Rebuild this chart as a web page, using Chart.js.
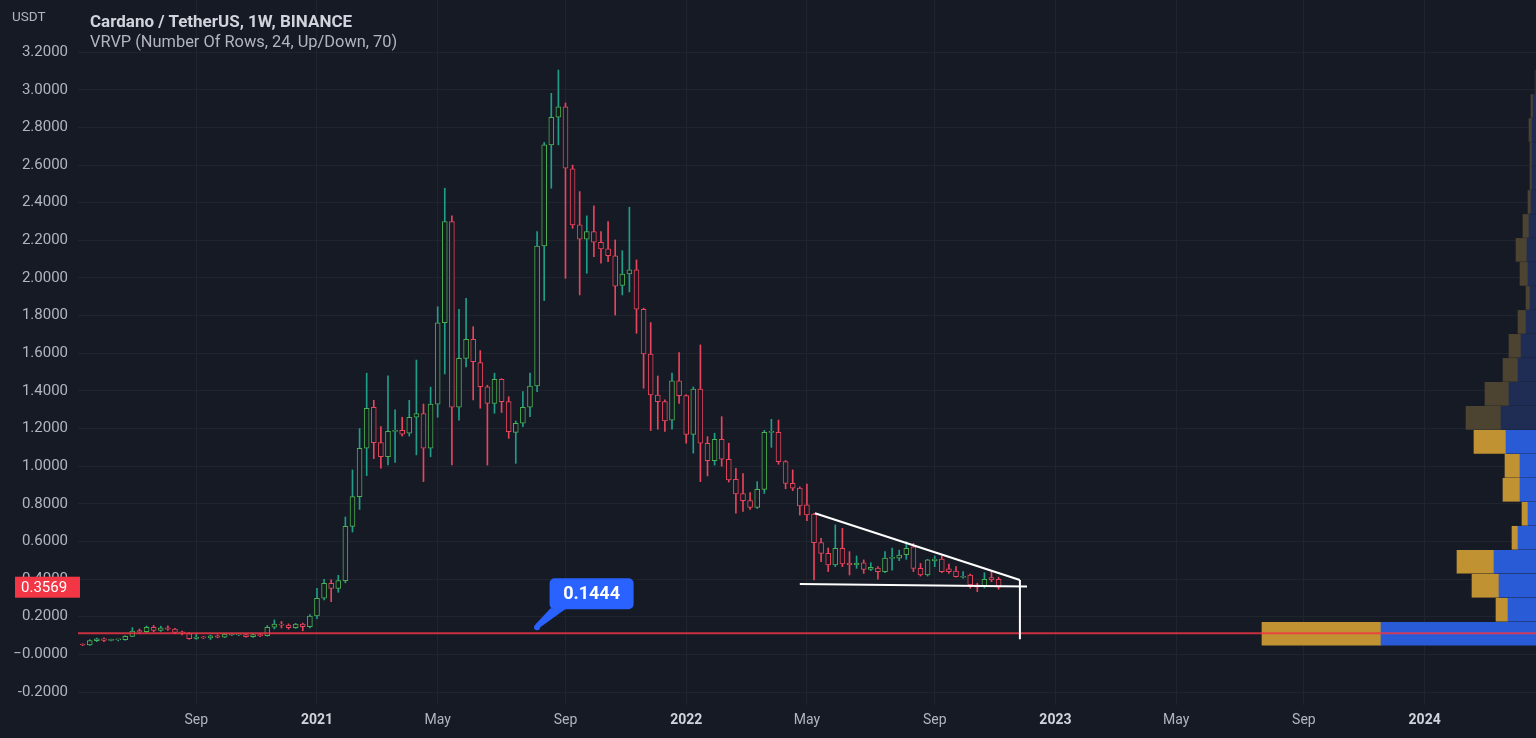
<!DOCTYPE html>
<html>
<head>
<meta charset="utf-8">
<script src="https://cdn.jsdelivr.net/npm/chart.js@4.4.1/dist/chart.umd.min.js"></script>
<style>
  html, body { margin: 0; padding: 0; background: #161a25; }
  #wrap { position: relative; width: 1536px; height: 738px; overflow: hidden; }
  #chart { display: block; }
  .hdr { position: absolute; font-family: Roboto, "Open Sans", sans-serif; white-space: nowrap; line-height: normal; }
  #unit { left: 12px; top: 8px; font-size: 13.5px; color: #b2b5be; }
  #title { left: 90px; top: 11px; font-size: 17px; font-weight: 700; color: #d1d4dc; }
  #study { left: 90px; top: 32px; font-size: 16.4px; color: #b2b5be; }
</style>
</head>
<body>
<div id="wrap">
  <canvas id="chart" width="1536" height="738"></canvas>
  <div class="hdr" id="unit">USDT</div>
  <div class="hdr" id="title">Cardano / TetherUS, 1W, BINANCE</div>
  <div class="hdr" id="study">VRVP (Number Of Rows, 24, Up/Down, 70)</div>
</div>
<script>
// weekly candles, first one opens Mon 18 May 2020
const FIRST_WEEK = "2020-05-18";

const OPEN = [
  .052, .050, .073, .082, .074, .077, .078, .096, .126, .120,
  .144, .127, .141, .134, .120, .110, .085, .091, .088, .099,
  .091, .103, .104, .105, .094, .105, .099, .144, .161, .156,
  .142, .161, .147, .204, .298, .378, .351, .392, .680, .838,
  1.095, 1.313, 1.125, 1.050, 1.185, 1.190, 1.175, 1.260, 1.280, 1.095,
  1.330, 1.762, 2.300, 1.313, 1.573, 1.674, 1.550, 1.422, 1.334, 1.462,
  1.343, 1.180, 1.228, 1.313, 1.426, 2.170, 2.707, 2.854, 2.910, 2.580,
  2.282, 2.206, 2.246, 2.190, 2.155, 2.118, 1.960, 2.021, 2.043, 1.834,
  1.596, 1.378, 1.343, 1.245, 1.453, 1.375, 1.169, 1.409, 1.122, 1.029,
  1.143, 1.037, .930, .855, .817, .781, .877, 1.180, 1.180, 1.024,
  .909, .883, .795, .746, .594, .537, .475, .564, .485, .475,
  .487, .452, .458, .440, .510, .511, .530, .572, .457, .422,
  .497, .507, .455, .443, .410, .421, .370, .360, .408, .399
];
const HIGH = [
  .056, .078, .087, .088, .081, .080, .099, .142, .135, .151,
  .154, .150, .152, .139, .124, .114, .110, .096, .103, .104,
  .112, .110, .108, .108, .108, .110, .153, .183, .175, .162,
  .165, .166, .212, .351, .399, .396, .420, .730, .980, 1.200,
  1.494, 1.350, 1.210, 1.480, 1.300, 1.260, 1.350, 1.564, 1.330, 1.420,
  1.847, 2.477, 2.330, 1.834, 1.892, 1.741, 1.614, 1.430, 1.494, 1.465,
  1.369, 1.240, 1.396, 1.494, 2.246, 2.720, 2.981, 3.105, 2.930, 2.600,
  2.459, 2.330, 2.383, 2.246, 2.299, 2.202, 2.145, 2.376, 2.096, 1.840,
  1.763, 1.479, 1.352, 1.494, 1.603, 1.380, 1.421, 1.644, 1.157, 1.175,
  1.263, 1.122, .989, .960, .860, .918, 1.190, 1.249, 1.245, 1.030,
  .980, .890, .905, .750, .617, .565, .688, .670, .546, .523,
  .502, .487, .466, .546, .565, .554, .599, .590, .483, .505,
  .523, .523, .480, .466, .440, .427, .378, .434, .440, .410
];
const LOW = [
  .046, .047, .068, .068, .071, .072, .075, .094, .113, .116,
  .120, .122, .127, .110, .104, .080, .080, .083, .079, .088,
  .089, .100, .099, .091, .090, .094, .097, .135, .140, .134,
  .138, .125, .140, .190, .290, .280, .330, .380, .650, .770,
  .950, 1.040, .990, 1.006, 1.020, 1.160, 1.160, 1.060, .918, 1.050,
  1.260, 1.490, 1.006, 1.245, 1.528, 1.352, 1.308, 1.006, 1.281, 1.285,
  1.148, 1.015, 1.210, 1.263, 1.396, 1.880, 2.477, 2.707, 1.998, 2.264,
  1.910, 2.025, 2.113, 2.078, 2.087, 1.803, 1.910, 1.926, 1.706, 1.414,
  1.189, 1.196, 1.185, 1.196, 1.334, 1.122, 1.069, .918, .948, 1.006,
  1.000, .916, .750, .760, .770, .775, .855, 1.100, 1.010, .880,
  .870, .740, .710, .395, .493, .440, .466, .466, .422, .457,
  .430, .445, .400, .434, .448, .498, .505, .440, .416, .416,
  .466, .434, .430, .410, .405, .351, .333, .353, .386, .346
];
const CLOSE = [
  .050, .073, .082, .074, .077, .078, .096, .124, .120, .144,
  .127, .141, .134, .116, .111, .084, .092, .088, .098, .091,
  .108, .107, .106, .094, .105, .099, .144, .161, .155, .142,
  .161, .147, .204, .298, .378, .351, .392, .680, .838, 1.095,
  1.308, 1.125, 1.050, 1.185, 1.190, 1.170, 1.260, 1.280, 1.095, 1.330,
  1.762, 2.300, 1.313, 1.573, 1.674, 1.555, 1.422, 1.334, 1.462, 1.343,
  1.183, 1.228, 1.313, 1.426, 2.170, 2.707, 2.854, 2.910, 2.583, 2.282,
  2.206, 2.246, 2.190, 2.155, 2.118, 1.957, 2.021, 2.043, 1.834, 1.596,
  1.378, 1.343, 1.240, 1.453, 1.375, 1.169, 1.409, 1.122, 1.029, 1.143,
  1.037, .927, .852, .817, .781, .877, 1.180, 1.185, 1.024, .909,
  .883, .789, .741, .594, .537, .475, .564, .480, .475, .485,
  .452, .462, .440, .511, .513, .528, .564, .457, .422, .502,
  .507, .440, .440, .413, .415, .369, .357, .399, .396, .3569
];

// VRVP, 24 rows from the lowest low to the highest high (bottom row first)
const VP_UP = [1190, 120, 270, 370, 60, 60, 170, 150, 320, 350, 240, 150, 120, 80, 40, 80, 110, 60, 30, 20, 20, 30, 20, 0];
const VP_DOWN = [1550, 280, 370, 420, 180, 80, 160, 160, 300, 350, 270, 180, 150, 100, 60, 80, 90, 70, 50, 40, 40, 40, 30, 8];
const VA_TOP_ROW = 8; // rows 0..8 are inside the 70% value area

const X_TICK_DATES = ["2020-09-07", "2021-01-04", "2021-05-03", "2021-09-06", "2022-01-03", "2022-05-02",
  "2022-09-05", "2023-01-02", "2023-05-01", "2023-09-04", "2024-01-01"];
const X_TICK_LABELS = ["Sep", "2021", "May", "Sep", "2022", "May", "Sep", "2023", "May", "Sep", "2024"];
const Y_TICKS = [-0.2, 0, 0.2, 0.4, 0.6, 0.8, 1, 1.2, 1.4, 1.6, 1.8, 2, 2.2, 2.4, 2.6, 2.8, 3, 3.2];
const Y_TICK_LABELS = ["-0.2000", "\u22120.0000", "0.2000", "0.4000", "0.6000", "0.8000", "1.0000", "1.2000", "1.4000",
  "1.6000", "1.8000", "2.0000", "2.2000", "2.4000", "2.6000", "2.8000", "3.0000", "3.2000"];

// drawings on the chart
const LEVEL = 0.112;
const NOTE = { date: "2021-08-09", price: 0.1444, text: "0.1444" };
const TREND_UPPER = [["2022-05-10", 0.75], ["2022-11-28", 0.395]];
const TREND_LOWER = [["2022-04-25", 0.374], ["2022-12-05", 0.36]];
const TREND_DROP = [["2022-11-28", 0.395], ["2022-11-28", 0.08]];
const LAST_PRICE = 0.3569;

const BG = "#161a25";
const GRID = "#20242f";
const UP_BODY = "#4caf50";
const UP_WICK = "#1f9e89";
const DOWN = "#e8445c";
const FONT = "Roboto, 'Open Sans', sans-serif";

const DAY0 = Date.UTC(2020, 0, 1);
const toDay = s => (Date.parse(s + "T00:00:00Z") - DAY0) / 86400000;
const X_MIN = 133.4;
const X_MAX = 1570.8;

const weekDays = OPEN.map((_, i) => toDay(FIRST_WEEK) + 7 * i);
const isUp = i => CLOSE[i] >= OPEN[i];
const isYear = i => /^\d{4}$/.test(X_TICK_LABELS[i]);

const priceLow = Math.min(...LOW);
const priceHigh = Math.max(...HIGH);
const rowStep = (priceHigh - priceLow) / VP_UP.length;
const rowMid = i => priceLow + rowStep * (i + 0.5);

const toPoints = pts => pts.map(([d, p]) => ({ x: toDay(d), y: p }));
const whiteLine = pts => ({
  type: "line", data: toPoints(pts), xAxisID: "x", yAxisID: "y",
  borderColor: "#ffffff", borderWidth: 2, pointRadius: 0, order: 1
});

const bgPlugin = {
  id: "bg",
  beforeDraw(chart) {
    const { ctx, width, height } = chart;
    ctx.save();
    ctx.fillStyle = BG;
    ctx.fillRect(0, 0, width, height);
    ctx.restore();
  }
};

const labelsPlugin = {
  id: "labels",
  afterDraw(chart) {
    const { ctx, scales: { x, y } } = chart;
    ctx.save();

    // text note with a pointer
    const ax = x.getPixelForValue(toDay(NOTE.date));
    const ay = y.getPixelForValue(NOTE.price);
    const bx = ax + 12.5, by = ay - 49, bw = 84, bh = 31;
    ctx.fillStyle = "#2962ff";
    ctx.beginPath();
    ctx.moveTo(ax - 1.5, ay - 3);
    ctx.lineTo(bx + 1, by + bh - 1);
    ctx.lineTo(bx + 17, by + bh - 1);
    ctx.lineTo(ax + 2.5, ay + 0.5);
    ctx.closePath();
    ctx.fill();
    ctx.beginPath();
    ctx.arc(ax, ay, 3, 0, Math.PI * 2);
    ctx.fill();
    ctx.beginPath();
    ctx.roundRect(bx, by, bw, bh, 5);
    ctx.fill();
    ctx.fillStyle = "#ffffff";
    ctx.font = "bold 18px " + FONT;
    ctx.textAlign = "center";
    ctx.textBaseline = "middle";
    ctx.fillText(NOTE.text, bx + bw / 2, by + bh / 2 + 1);

    // last price badge on the price scale
    const py = y.getPixelForValue(LAST_PRICE);
    ctx.fillStyle = "#f23645";
    ctx.fillRect(15, py - 10.5, 65, 21);
    ctx.fillStyle = "#ffffff";
    ctx.font = "15px " + FONT;
    ctx.textAlign = "left";
    ctx.fillText(LAST_PRICE.toFixed(4), 21, py + 1);
    ctx.restore();
  }
};

new Chart(document.getElementById("chart"), {
  type: "bar",
  data: {
    datasets: [
      {
        data: weekDays.map((d, i) => ({ x: d, y: [OPEN[i], CLOSE[i]] })),
        xAxisID: "x", yAxisID: "y",
        backgroundColor: BG,
        borderColor: ctx => isUp(ctx.dataIndex) ? UP_BODY : DOWN,
        borderWidth: 1, borderSkipped: false, barThickness: 5, minBarLength: 1,
        grouped: false, order: 4
      },
      {
        data: weekDays.map((d, i) => ({ x: d, y: [LOW[i], HIGH[i]] })),
        xAxisID: "x", yAxisID: "y",
        backgroundColor: ctx => isUp(ctx.dataIndex) ? UP_WICK : DOWN,
        borderWidth: 0, barThickness: 1, grouped: false, order: 5
      },
      {
        indexAxis: "y",
        data: VP_DOWN.map((v, i) => ({ y: rowMid(i), x: [0, v] })),
        xAxisID: "xv", yAxisID: "y",
        backgroundColor: ctx => ctx.dataIndex <= VA_TOP_ROW ? "#2a5bd7" : "#1f2d55",
        borderWidth: 0, barThickness: 23, grouped: false, order: 8
      },
      {
        indexAxis: "y",
        data: VP_UP.map((v, i) => ({ y: rowMid(i), x: [VP_DOWN[i], VP_DOWN[i] + v] })),
        xAxisID: "xv", yAxisID: "y",
        backgroundColor: ctx => ctx.dataIndex <= VA_TOP_ROW ? "#c09231" : "#4c4431",
        borderWidth: 0, barThickness: 23, grouped: false, order: 8
      },
      {
        type: "line",
        data: [{ x: X_MIN, y: LEVEL }, { x: X_MAX, y: LEVEL }],
        xAxisID: "x", yAxisID: "y",
        borderColor: "rgba(242, 54, 69, 0.82)", borderWidth: 2, pointRadius: 0, order: 2
      },
      whiteLine(TREND_UPPER),
      whiteLine(TREND_LOWER),
      whiteLine(TREND_DROP)
    ]
  },
  options: {
    responsive: false,
    devicePixelRatio: 1,
    animation: false,
    layout: { padding: 0 },
    plugins: { legend: { display: false }, tooltip: { enabled: false } },
    scales: {
      x: {
        type: "linear", min: X_MIN, max: X_MAX, offset: false,
        afterBuildTicks: axis => { axis.ticks = X_TICK_DATES.map(d => ({ value: toDay(d) })); },
        afterFit: axis => { axis.height = 33; axis.paddingLeft = 0; axis.paddingRight = 0; },
        ticks: {
          callback: (v, i) => X_TICK_LABELS[i],
          autoSkip: false, maxRotation: 0, padding: 7,
          color: ctx => isYear(ctx.index) ? "#d1d4dc" : "#b2b5be",
          font: ctx => ({ family: FONT, size: 14, weight: isYear(ctx.index) ? "bold" : "normal" })
        },
        grid: { color: GRID, drawTicks: false, offset: false },
        border: { display: false }
      },
      y: {
        type: "linear", position: "left", min: -0.269, max: 3.477, offset: false,
        afterBuildTicks: axis => { axis.ticks = Y_TICKS.map(v => ({ value: v })); },
        afterFit: axis => { axis.width = 78; axis.paddingTop = 0; axis.paddingBottom = 0; },
        ticks: {
          callback: (v, i) => Y_TICK_LABELS[i],
          color: "#b2b5be", padding: 10,
          font: { family: FONT, size: 15 }
        },
        grid: { color: GRID, drawTicks: false, offset: false },
        border: { display: false }
      },
      xv: {
        type: "linear", axis: "x", display: false, reverse: true,
        min: 0, max: 14580, offset: false
      }
    }
  },
  plugins: [bgPlugin, labelsPlugin]
});
</script>
</body>
</html>
